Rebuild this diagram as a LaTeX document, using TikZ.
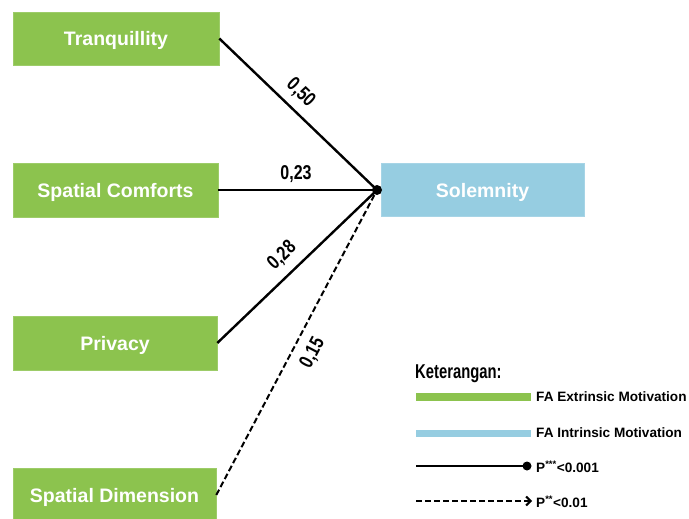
\documentclass[tikz,border=0pt]{standalone}
\usepackage{fontspec}
\setmainfont{Liberation Sans}
\newfontfamily\condfont[FakeStretch=0.8]{Liberation Sans}
\newfontfamily\ketfont[FakeStretch=0.74]{Liberation Sans}
\usetikzlibrary{arrows.meta}
\definecolor{fagreen}{RGB}{140,195,78}
\definecolor{fablue}{RGB}{150,205,225}
\tikzset{
  extbox/.style={fill=fagreen, draw=fagreen!85!white, line width=0.6pt, minimum width=205pt, minimum height=54pt,
    inner sep=0pt, text=white, text height=15pt, text depth=0pt, font=\fontsize{19.5}{22}\selectfont\bfseries},
  intbox/.style={extbox, fill=fablue, draw=fablue!85!white, minimum width=203pt, minimum height=53pt},
  solidlink/.style={line width=2.4pt, black},
  dashlink/.style={line width=2pt, black, dash pattern=on 6pt off 3pt},
  coef/.style={font=\condfont\fontsize{20}{22}\selectfont\bfseries, sloped, inner sep=1pt},
  legtext/.style={anchor=west, inner sep=0pt, font=\fontsize{13.6}{15}\selectfont\bfseries},
}
\begin{document}
\begin{tikzpicture}[x=1pt, y=-1pt]
\useasboundingbox (0,0) rectangle (689,519);
\fill[white] (0,0) rectangle (689,519);

\node[extbox, minimum width=206pt, minimum height=53pt] (tran) at (116,38.5) {Tranquillity};
\node[extbox] (comf) at (115.5,190) {Spatial Comforts};
\node[extbox, minimum width=204pt] (priv) at (115,343) {Privacy};
\node[extbox, minimum width=203pt] (dime) at (114.5,495) {Spatial Dimension};
\node[intbox] (sole) at (482.5,189.5) {Solemnity};

\coordinate (J) at (377,190);

\draw[solidlink] (tran.east) -- node[coef, pos=0.44, above=6.5pt] {0,50} (J);
\draw[solidlink] (comf.east) -- node[coef, pos=0.49, above=5pt] {0,23} (J);
\draw[solidlink] (priv.east) -- node[coef, pos=0.485, above=7.5pt] {0,28} (J);
\draw[dashlink] (dime.east) -- node[coef, pos=0.495, below=8.5pt] {0,15} (J);
\fill[black] (J) circle (5pt);

% legend
\node[anchor=west, inner sep=0pt, font=\ketfont\fontsize{20}{22}\selectfont\bfseries] (ket) at (415,374) {Keterangan:};

\coordinate (g1) at (416,397);
\coordinate (g2) at (531,397);
\draw[fagreen, line width=8pt] (g1) -- (g2);
\node[legtext] (lg) at (536,397) {FA Extrinsic Motivation};

\coordinate (b1) at (416,433);
\coordinate (b2) at (531,433);
\draw[fablue, line width=7pt] (b1) -- (b2);
\node[legtext] (lb) at (536,433) {FA Intrinsic Motivation};

\coordinate (s1) at (416,466);
\coordinate (s2) at (527,466);
\draw[line width=2.4pt] (s1) -- (s2);
\fill (s2) circle (4.5pt);
\node[legtext] (ls) at (536,467) {P\textsuperscript{***}<0.001};

\coordinate (d1) at (416,501);
\coordinate (d2) at (532,501);
\draw[line width=2pt, dash pattern=on 6pt off 3pt, -{Straight Barb[length=4.5pt, width=9pt, line width=2pt]}] (d1) -- (d2);
\node[legtext] (ld) at (536,502) {P\textsuperscript{**}<0.01};
\end{tikzpicture}
\end{document}
